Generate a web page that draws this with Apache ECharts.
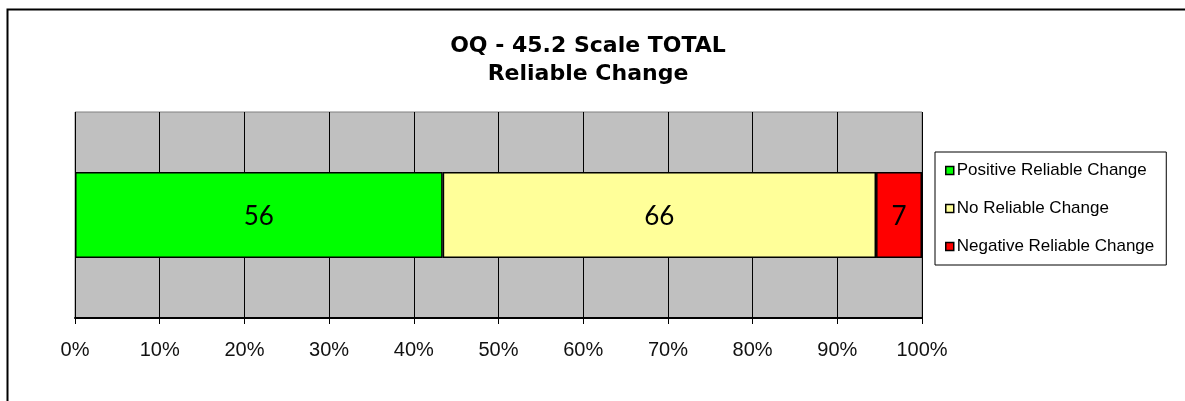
<!DOCTYPE html>
<html>
<head>
<meta charset="utf-8">
<script src="https://cdn.jsdelivr.net/npm/echarts@6/dist/echarts.min.js"></script>
<style>
html, body { margin: 0; padding: 0; background: #fff; }
#main { width: 1185px; height: 401px; }
</style>
</head>
<body>
<div id="main"></div>
<script>
var categories = ['Total'];
var seriesNames = ['Positive Reliable Change', 'No Reliable Change', 'Negative Reliable Change'];
var counts = [56, 66, 7];
var colors = ['#00FF00', '#FFFF99', '#FF0000'];
var tickLabels = ['0%', '10%', '20%', '30%', '40%', '50%', '60%', '70%', '80%', '90%', '100%'];

var total = counts.reduce(function (a, b) { return a + b; }, 0);

var myChart = echarts.init(document.getElementById('main'));

var series = seriesNames.map(function (name, i) {
    return {
        name: name,
        type: 'bar',
        stack: 'all',
        barWidth: 86,
        data: [{ value: counts[i] / total * 100, count: counts[i] }],
        itemStyle: { color: colors[i], borderColor: '#000', borderWidth: 1.5 },
        label: {
            show: true,
            position: 'inside',
            offset: [0, 2],
            formatter: function (p) { return p.data.count; },
            color: '#000',
            fontFamily: 'Lato',
            fontSize: 26
        }
    };
});

var option = {
    animation: false,
    title: {
        text: 'OQ - 45.2 Scale TOTAL\nReliable Change',
        left: 583,
        textAlign: 'center',
        top: 27,
        textStyle: {
            fontFamily: 'DejaVu Sans',
            fontWeight: 'bold',
            fontSize: 22,
            lineHeight: 28,
            color: '#000'
        }
    },
    legend: {
        orient: 'vertical',
        left: 935,
        top: 152,
        data: seriesNames,
        icon: 'rect',
        itemWidth: 8,
        itemHeight: 8,
        itemGap: 21,
        padding: [10, 12, 10, 10],
        borderColor: '#000',
        borderWidth: 1,
        itemStyle: { borderColor: '#000', borderWidth: 1.5 },
        textStyle: { fontFamily: 'Liberation Sans', fontSize: 17, color: '#000', padding: [0, 0, 0, -2] }
    },
    grid: {
        left: 75,
        right: 263,
        top: 112,
        bottom: 83,
        show: true,
        backgroundColor: '#C0C0C0',
        borderColor: '#808080',
        borderWidth: 1
    },
    xAxis: {
        type: 'value',
        min: 0,
        max: 100,
        interval: 10,
        axisLine: { show: true, lineStyle: { color: '#000', width: 2 } },
        axisTick: { show: true, length: 6, lineStyle: { color: '#000' } },
        axisLabel: {
            formatter: function (v) { return tickLabels[Math.round(v / 10)]; },
            fontFamily: 'Liberation Sans',
            fontSize: 20,
            color: '#111',
            margin: 22
        },
        splitLine: { show: true, lineStyle: { color: '#000', width: 1 } }
    },
    yAxis: {
        type: 'category',
        data: categories,
        axisLine: { show: false },
        axisTick: { show: false },
        axisLabel: { show: false }
    },
    series: series,
    graphic: [{
        type: 'rect',
        left: 5,
        top: 7,
        shape: { width: 1240, height: 500 },
        style: { fill: 'none', stroke: '#000', lineWidth: 2 },
        silent: true
    }]
};

myChart.setOption(option);
</script>
</body>
</html>
